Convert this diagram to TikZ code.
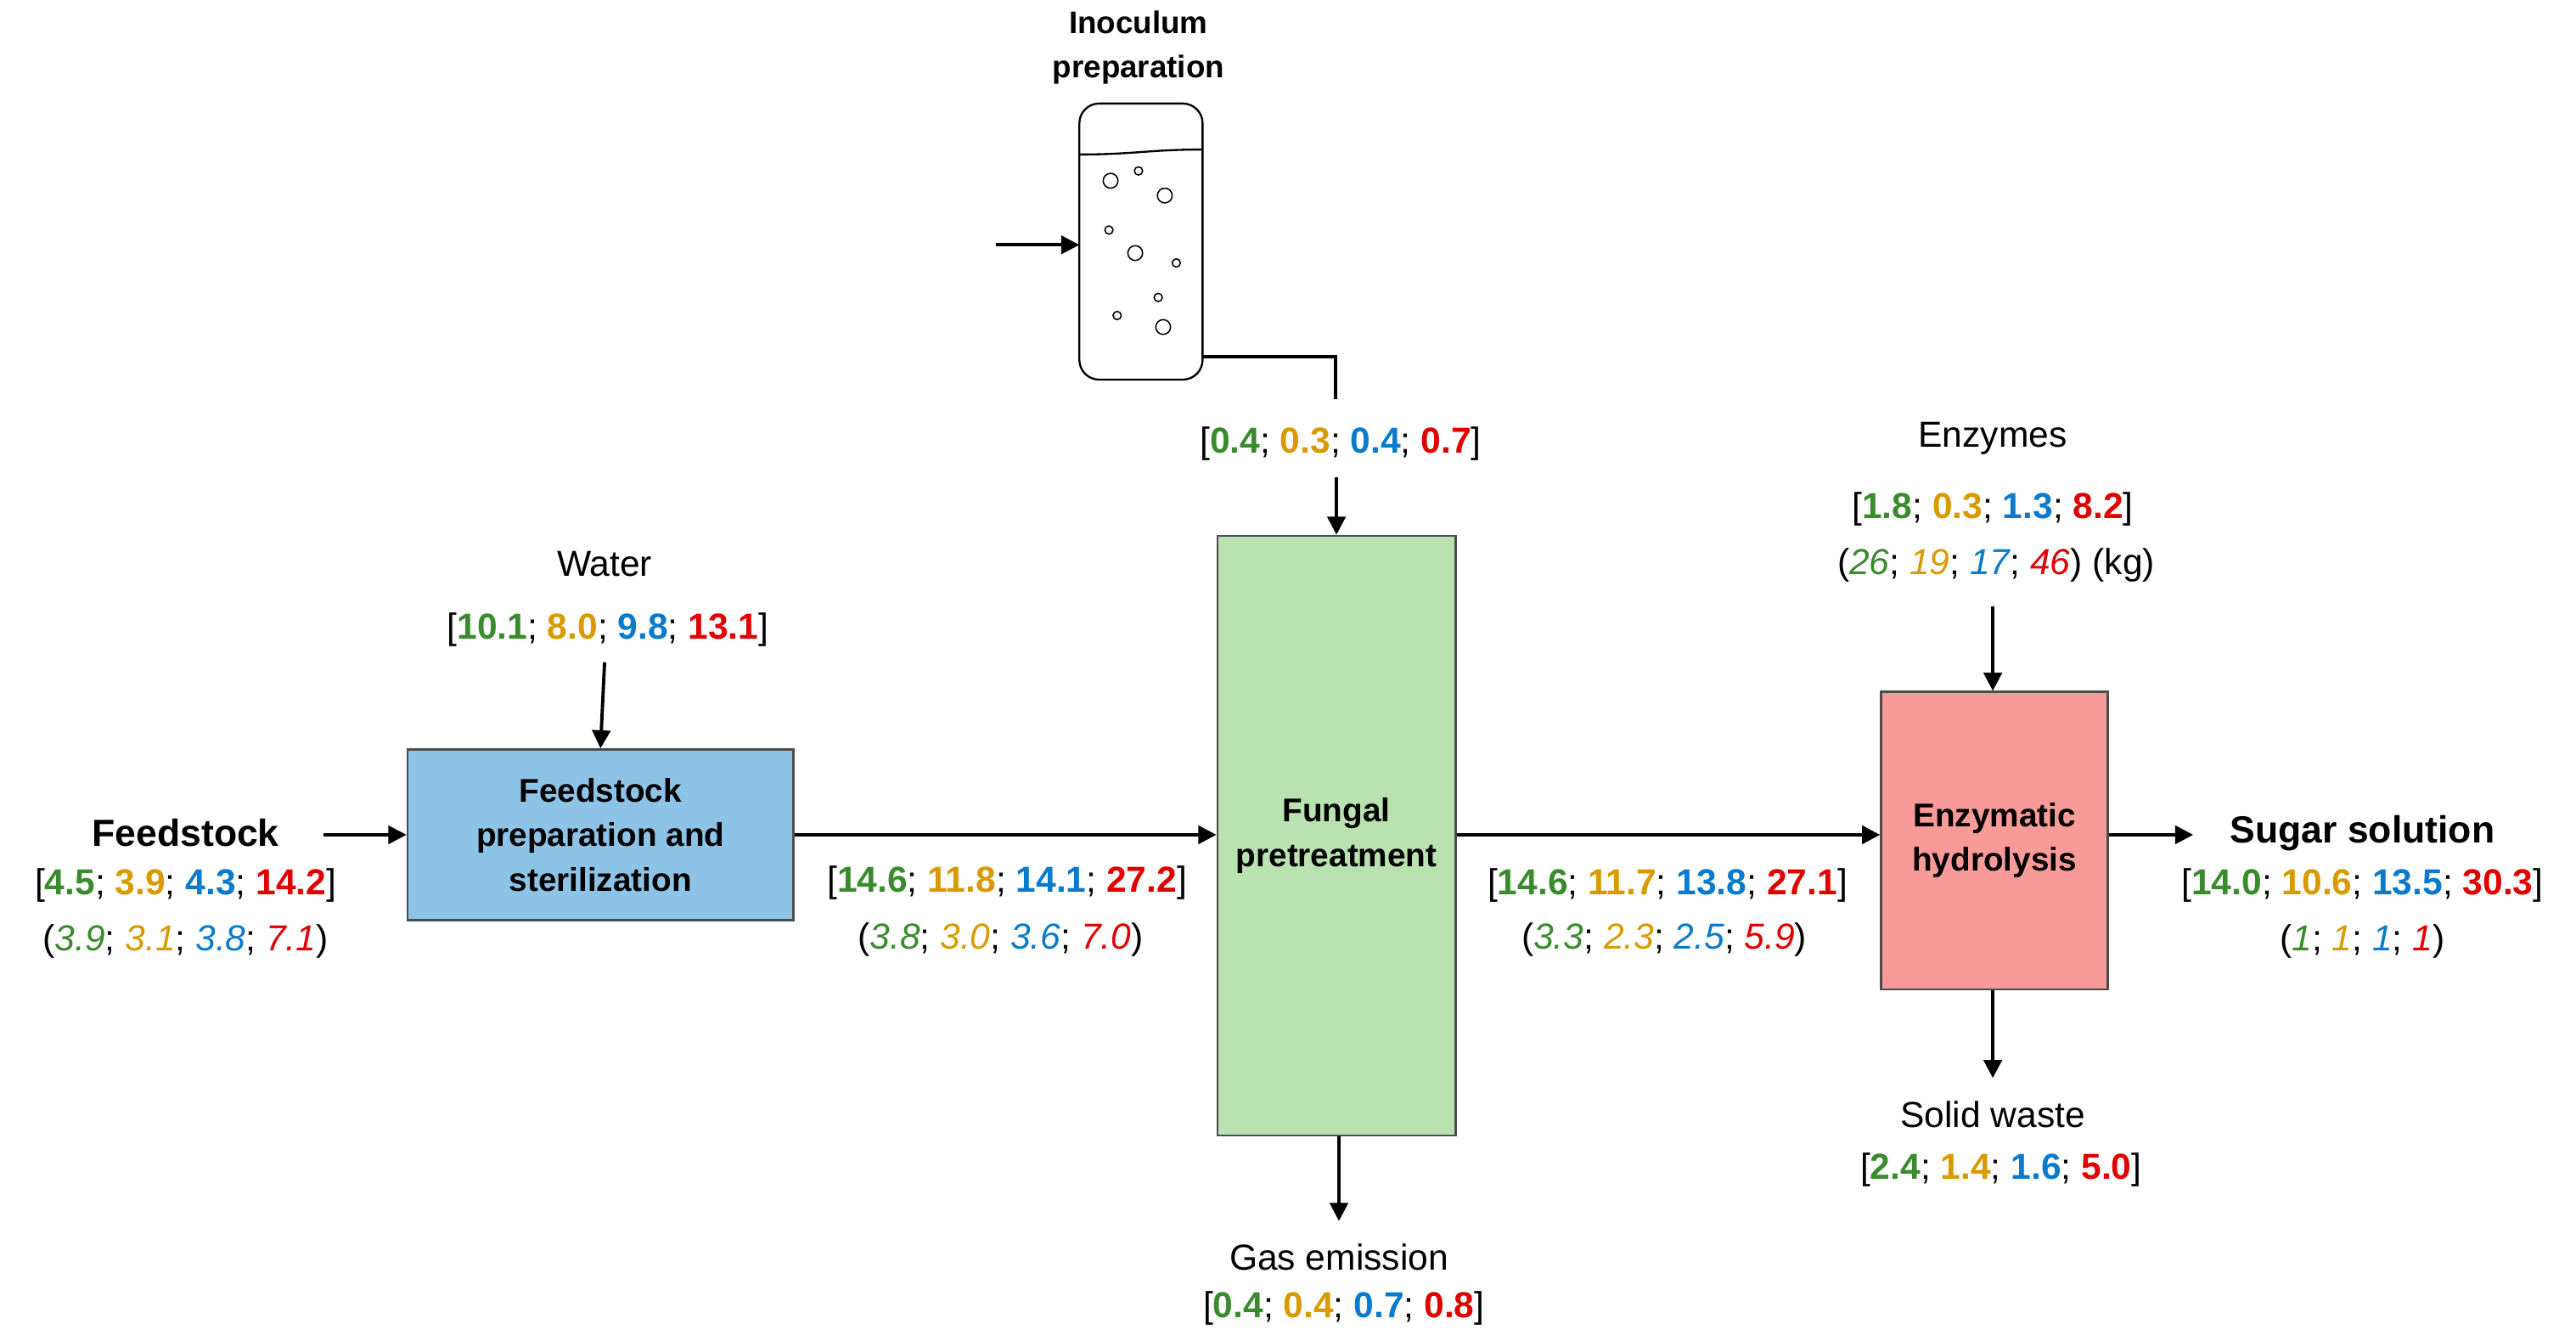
\documentclass[tikz,border=0pt]{standalone}
\usepackage{fontspec}
\setmainfont{Liberation Sans}
\usetikzlibrary{arrows.meta}
\definecolor{cg}{HTML}{3A8A2E}
\definecolor{cy}{HTML}{D99A00}
\definecolor{cb}{HTML}{0A7ACC}
\definecolor{cr}{HTML}{E00000}
\definecolor{fblue}{HTML}{8DC3E6}
\definecolor{fgreen}{HTML}{BAE2B1}
\definecolor{fred}{HTML}{F79A98}
\newcommand\bvals[4]{[\textbf{\color{cg}#1}; \textbf{\color{cy}#2}; \textbf{\color{cb}#3}; \textbf{\color{cr}#4}]}
\newcommand\ivals[4]{(\textit{\color{cg}#1}; \textit{\color{cy}#2}; \textit{\color{cb}#3}; \textit{\color{cr}#4})}
\begin{document}
\begin{tikzpicture}[x=1pt,y=-1pt,
  arr/.style={line width=2pt,-{Triangle[length=11pt,width=11pt]}},
  lbl/.style={font=\fontsize{22}{26}\selectfont,inner sep=0pt},
  blbl/.style={font=\fontsize{23}{27}\selectfont\bfseries,inner sep=0pt},
  box/.style={draw=black!70,line width=1.2pt,font=\fontsize{20}{27}\selectfont\bfseries,align=center,inner sep=0pt},
  bub/.style={draw,line width=0.8pt}]
\useasboundingbox (0,0) rectangle (1568,816);
% Inoculum
\node[font=\fontsize{19}{27}\selectfont\bfseries,align=center] (inl) at (693,29) {Inoculum\\preparation};
\draw[line width=1.2pt,rounded corners=12pt] (657,63) rectangle (732,231);
\node[inner sep=0pt] (ves) at (694.5,147) {};
\draw[line width=1.2pt] (657,94) .. controls (690,94) and (700,91) .. (732,91);
\foreach \x/\y/\r in {676/110/4.5, 693/104/2.5, 709/119/4.5, 675/140/2.5, 691/154/4.5, 716/160/2.5, 705/181/2.5, 680/192/2.5, 708/199/4.5}
  \draw[bub] (\x,\y) circle (\r);
\coordinate (inin) at (606,149);
\coordinate (inv) at (657,149);
\draw[arr] (inin) -- (inv);
\coordinate (vout) at (732,217);
\coordinate (vbend) at (813,217);
\coordinate (vend) at (813,243);
\draw[line width=2pt] (vout) -- (vbend) -- (vend);
\node[lbl] (inv1) at (816,270) {\bvals{0.4}{0.3}{0.4}{0.7}};
% boxes
\node[box,fill=fblue,minimum width=235pt,minimum height=104pt] (prep) at (365.5,508) {Feedstock\\preparation and\\sterilization};
\node[box,fill=fgreen,minimum width=145pt,minimum height=365pt] (fung) at (813.5,508.5) {Fungal\\pretreatment};
\node[box,fill=fred,minimum width=138pt,minimum height=181pt] (enz) at (1214,511.5) {Enzymatic\\hydrolysis};
\draw[arr] (inv1.south -| fung.north) ++(0,10) -- (fung.north);
% water
\node[lbl] (wat) at (368,343) {Water};
\node[lbl] (wat1) at (370,383) {\bvals{10.1}{8.0}{9.8}{13.1}};
\draw[arr] (368,403) -- (prep.north);
% feedstock
\node[blbl] (fs) at (113,507) {Feedstock};
\node[lbl] (fs1) at (113,539) {\bvals{4.5}{3.9}{4.3}{14.2}};
\node[lbl] (fs2) at (113,573) {\ivals{3.9}{3.1}{3.8}{7.1}};
\draw[arr] (197,508) -- (prep.west);
% prep -> fung
\draw[arr] (prep.east) -- (fung.west |- prep.east);
\node[lbl] (m1) at (613,537) {\bvals{14.6}{11.8}{14.1}{27.2}};
\node[lbl] (m2) at (609,572) {\ivals{3.8}{3.0}{3.6}{7.0}};
% fung -> enz
\draw[arr] (fung.east |- 0,508) -- (enz.west |- 0,508);
\node[lbl] (n1) at (1015,539) {\bvals{14.6}{11.7}{13.8}{27.1}};
\node[lbl] (n2) at (1013,572) {\ivals{3.3}{2.3}{2.5}{5.9}};
% enzymes
\node[lbl] (ez) at (1213,267) {Enzymes};
\node[lbl] (ez1) at (1213,310) {\bvals{1.8}{0.3}{1.3}{8.2}};
\node[lbl] (ez2) at (1215,344) {\ivals{26}{19}{17}{46} (kg)};
\draw[arr] (1213,369) -- (enz.north -| 1213,0);
% sugar
\coordinate (sgo) at (1335,508);
\draw[arr] (enz.east |- 0,508) -- (sgo);
\node[blbl] (sg) at (1438,507) {Sugar solution};
\node[lbl] (sg1) at (1438,539) {\bvals{14.0}{10.6}{13.5}{30.3}};
\node[lbl] (sg2) at (1438,573) {\ivals{1}{1}{1}{1}};
% solid waste
\coordinate (swe) at (1213,656);
\draw[arr] (enz.south -| 1213,0) -- (swe);
\node[lbl] (sw) at (1213,678) {Solid waste};
\node[lbl] (sw1) at (1218,712) {\bvals{2.4}{1.4}{1.6}{5.0}};
% gas
\coordinate (ge) at (815,743);
\draw[arr] (fung.south -| 815,0) -- (ge);
\node[lbl] (gs) at (815,765) {Gas emission};
\node[lbl] (gs1) at (818,796) {\bvals{0.4}{0.4}{0.7}{0.8}};
\end{tikzpicture}
\end{document}
